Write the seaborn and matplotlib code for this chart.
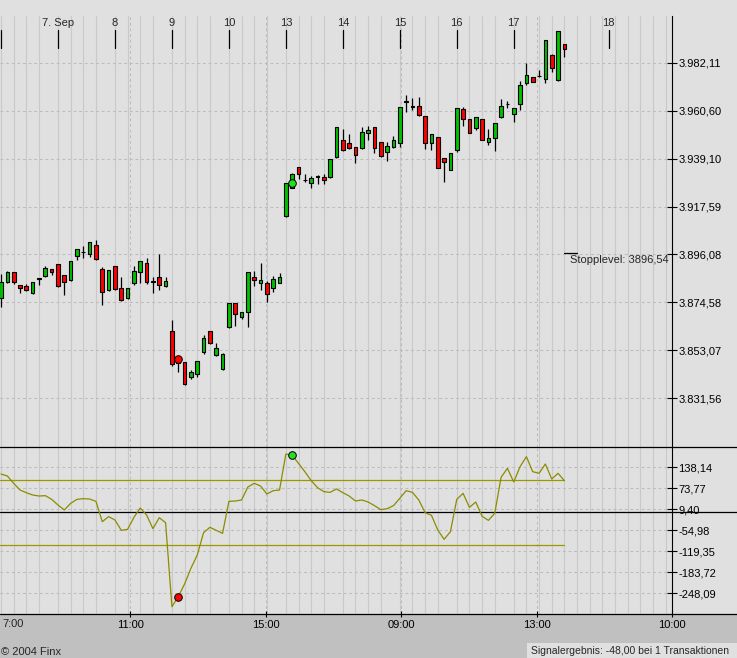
import numpy as np
import pandas as pd
import seaborn as sns
from matplotlib import pyplot as plt
from matplotlib.lines import Line2D
from matplotlib.patches import Rectangle

# hourly candles, 9 per trading day (6. - 17. Sep 2004)
opens = [3876.35, 3883.84, 3888.03, 3882.19, 3881.74, 3878.89, 3885.19, 3886.53, 3889.38, 3891.63,
         3886.68, 3884.74, 3895.22, 3897.02, 3896.12, 3900.17, 3889.38, 3880.24, 3890.73, 3880.84,
         3876.65, 3883.09, 3888.03, 3892.08, 3883.84, 3885.93, 3882.04, 3861.52, 3847.44, 3847.59,
         3841.14, 3842.49, 3852.23, 3861.52, 3851.03, 3844.74, 3863.61, 3874.10, 3868.11, 3870.06,
         3885.78, 3883.39, 3883.09, 3880.84, 3883.39, 3913.50, 3926.08, 3935.22, 3929.38, 3928.33,
         3931.03, 3931.03, 3931.03, 3940.01, 3947.35, 3946.01, 3944.21, 3943.76, 3950.50, 3953.35,
         3946.61, 3942.26, 3944.51, 3946.01, 3964.73, 3962.50, 3962.63, 3958.29, 3946.01, 3948.85,
         3939.26, 3934.17, 3943.16, 3961.44, 3956.94, 3952.75, 3956.94, 3946.75, 3948.25, 3957.99,
         3963.53, 3959.34, 3963.83, 3973.27, 3975.67, 3976.12, 3974.77, 3985.55, 3974.47, 3990.65]
highs = [3887.28, 3888.63, 3888.33, 3882.19, 3882.64, 3883.54, 3885.19, 3890.73, 3889.38, 3891.63,
         3886.68, 3893.27, 3898.67, 3899.87, 3901.66, 3902.56, 3890.43, 3888.93, 3890.73, 3885.93,
         3880.84, 3890.73, 3892.97, 3894.32, 3885.93, 3896.27, 3885.93, 3866.61, 3848.93, 3847.59,
         3843.99, 3848.03, 3859.87, 3861.52, 3856.27, 3851.78, 3874.10, 3874.10, 3870.06, 3888.03,
         3888.63, 3892.23, 3883.99, 3886.38, 3887.73, 3928.18, 3932.50, 3935.22, 3932.22, 3931.48,
         3931.77, 3932.07, 3938.82, 3953.35, 3952.60, 3950.20, 3944.21, 3953.35, 3953.80, 3953.35,
         3946.61, 3946.75, 3949.30, 3962.18, 3967.73, 3966.23, 3966.83, 3958.29, 3950.05, 3948.85,
         3939.56, 3941.51, 3961.73, 3962.33, 3956.94, 3957.69, 3956.94, 3952.45, 3954.99, 3965.93,
         3965.03, 3961.88, 3973.87, 3982.11, 3975.67, 3978.96, 3992.29, 3986.00, 3996.34, 3990.65]
lows = [3872.60, 3883.39, 3882.64, 3878.89, 3879.79, 3878.44, 3882.49, 3886.08, 3886.98, 3881.59,
        3877.99, 3884.29, 3893.72, 3894.62, 3895.07, 3893.57, 3873.50, 3879.64, 3880.24, 3875.30,
        3876.20, 3882.34, 3883.39, 3882.94, 3878.89, 3880.24, 3881.59, 3846.09, 3843.39, 3837.55,
        3840.25, 3841.14, 3851.48, 3855.97, 3850.58, 3844.29, 3863.16, 3864.06, 3867.21, 3863.61,
        3882.04, 3880.09, 3874.85, 3879.34, 3883.09, 3912.75, 3925.80, 3930.13, 3928.78, 3926.08,
        3927.88, 3927.73, 3930.58, 3939.56, 3942.71, 3943.31, 3937.32, 3943.31, 3947.65, 3941.81,
        3939.71, 3938.22, 3944.06, 3944.51, 3960.24, 3960.99, 3958.44, 3943.61, 3943.16, 3934.77,
        3928.78, 3933.87, 3942.26, 3953.95, 3950.65, 3952.15, 3947.50, 3945.41, 3942.71, 3957.54,
        3962.03, 3955.74, 3961.14, 3972.37, 3973.42, 3975.67, 3973.27, 3978.21, 3974.02, 3984.95]
closes = [3883.54, 3888.03, 3883.84, 3880.84, 3880.24, 3883.54, 3885.19, 3889.83, 3888.03, 3882.04,
          3883.84, 3892.97, 3898.37, 3897.02, 3901.51, 3894.17, 3879.34, 3888.93, 3880.69, 3875.75,
          3880.84, 3888.48, 3892.97, 3883.84, 3883.84, 3882.49, 3883.99, 3846.69, 3848.93, 3838.00,
          3843.09, 3848.03, 3858.37, 3856.42, 3853.88, 3851.18, 3874.10, 3869.46, 3870.06, 3888.03,
          3884.44, 3884.44, 3878.44, 3884.89, 3885.78, 3928.18, 3932.22, 3932.07, 3929.38, 3930.28,
          3931.03, 3929.68, 3938.82, 3953.35, 3943.16, 3943.76, 3940.61, 3950.95, 3951.85, 3944.06,
          3940.16, 3944.66, 3947.35, 3962.18, 3964.73, 3962.50, 3958.89, 3946.31, 3950.05, 3935.07,
          3937.77, 3941.51, 3961.73, 3956.79, 3950.80, 3957.69, 3947.65, 3948.40, 3954.99, 3962.78,
          3963.53, 3961.88, 3972.22, 3976.57, 3973.72, 3976.12, 3992.29, 3980.01, 3996.34, 3988.25]

# CCI indicator
cci = [117.5, 111.4, 88.9, 68.4, 60.2, 53.0, 49.9, 51.0, 39.7, 22.3,
       6.9, 27.4, 39.7, 41.8, 40.7, 33.5, -28.9, -13.5, -23.8, -55.5,
       -52.5, -15.6, 13.1, -8.4, -50.4, -16.6, -32.0, -290.1, -259.4, -220.4,
       -172.3, -131.3, -62.7, -46.3, -55.5, -64.8, 33.5, 34.6, 37.7, 77.6,
       88.9, 80.7, 56.1, 66.3, 68.4, 179.0, 174.9, 150.3, 124.7, 97.1,
       75.6, 63.3, 61.2, 71.5, 60.2, 49.9, 34.6, 37.7, 31.5, 20.3,
       8.0, 11.0, 20.3, 42.8, 66.3, 61.2, 37.7, -1.3, -9.4, -54.5,
       -83.2, -59.6, 39.7, 58.1, 15.1, 31.5, -12.5, -24.8, -3.3, 107.3,
       135.0, 93.0, 140.1, 170.8, 124.7, 119.6, 148.3, 102.2, 119.6, 97.1]
cci_levels = [100, -100]

sell_idx = 28
buy_idx = 46
stop_level = 3896.54

day_idx = [0, 9, 18, 27, 36, 45, 54, 63, 72, 81, 96]
day_labels = ["", "7. Sep", "8", "9", "10", "13", "14", "15", "16", "17", "18"]

price_ticks = [3982.11, 3960.60, 3939.10, 3917.59, 3896.08, 3874.58, 3853.07, 3831.56]
price_labels = ["3.982,11", "3.960,60", "3.939,10", "3.917,59", "3.896,08", "3.874,58",
                "3.853,07", "3.831,56"]
cci_ticks = [138.14, 73.77, 9.40, -54.98, -119.35, -183.72, -248.09]
cci_labels = ["138,14", "73,77", "9,40", "-54,98", "-119,35", "-183,72", "-248,09"]

time_pos = [20.43, 41.82, 63.21, 84.6, 106.0]
time_labels = ["11:00", "15:00", "09:00", "13:00", "10:00"]

df = pd.DataFrame({"i": np.arange(len(opens)), "open": opens, "high": highs,
                   "low": lows, "close": closes, "cci": cci})

sns.set_style("white")
plt.rcParams['font.family'] = ['Liberation Sans', 'DejaVu Sans']
plt.rcParams['font.size'] = 8

BG = "#e0e0e0"
FOOT = "#c0c0c0"
GRID = "#c9c9c9"
DASH = "#bcbcbc"
GREEN = "#00c000"
RED = "#ff0000"
OLIVE = "#8c8c00"

fig = plt.figure(figsize=(7.37, 6.58), dpi=100, facecolor=BG)
W, H = 737, 658
ax = fig.add_axes([0, 1 - 447 / H, 672.3 / W, (447 - 16) / H])
ax2 = fig.add_axes([0, 1 - 614 / H, 672.3 / W, (614 - 447) / H], sharex=ax)
fig.add_artist(Rectangle((0, 0), 1, 44 / H, transform=fig.transFigure,
                         facecolor=FOOT, edgecolor="none", zorder=-1))

xmin, xmax = -0.16, 106.05
grid_x = [d + o for d in range(0, 81, 9) for o in (0, 2, 4, 6)] + list(range(81, 106, 2))

for a in (ax, ax2):
    a.set_facecolor(BG)
    for x in grid_x:
        a.axvline(x, color=GRID, lw=0.8, zorder=0)
    for x in time_pos:
        a.axvline(x, color=DASH, lw=0.75, ls=(0, (2.7, 2.7)), zorder=0.5)
    for s in ("left", "top"):
        a.spines[s].set_visible(False)
    a.spines["right"].set_color("black")
    a.spines["right"].set_linewidth(0.8)
    a.spines["bottom"].set_visible(False)
    a.yaxis.tick_right()
    a.tick_params(axis="y", direction="inout", length=7, width=0.8, colors="black",
                  labelsize=8, pad=1)

# candles
up = df[df["close"] >= df["open"]]
dn = df[df["close"] < df["open"]]
ax.vlines(df["i"], df["low"], df["high"], color="black", lw=0.9, zorder=2)
for part, col in ((up, GREEN), (dn, RED)):
    body = (part["close"] - part["open"]).abs().clip(lower=0.35)
    bottom = part[["open", "close"]].min(axis=1)
    ax.bar(part["i"], body, bottom=bottom, width=0.58, color=col,
           edgecolor="black", linewidth=0.8, zorder=3)

sns.scatterplot(x=[sell_idx], y=[df["close"][sell_idx]], ax=ax, color=RED,
                edgecolor="black", s=30, linewidth=0.7, zorder=5)
sns.scatterplot(x=[buy_idx], y=[(df["open"][buy_idx] + df["close"][buy_idx]) / 2 - 0.8], ax=ax,
                color="#22e022", edgecolor="black", s=30, linewidth=0.7, zorder=5)

for y in price_ticks:
    ax.axhline(y, color=DASH, lw=0.75, ls=(0, (2.7, 2.7)), zorder=0.5)
ax.set_yticks(price_ticks, price_labels)
ax.set_ylim(3809.54, 4003.23)
ax.set_xlim(xmin, xmax)
ax.tick_params(axis="x", bottom=False, labelbottom=False)

# date marks along the top
tr = ax.get_xaxis_transform()
for x, lab in zip(day_idx, day_labels):
    ax.plot([x, x], [0.9258, 0.9675], color="black", lw=0.9, transform=tr, zorder=4)
    ax.text(x, 0.9838, lab, transform=tr, ha="center", va="center", fontsize=8)

# stop level
ax.plot([89, 91], [stop_level, stop_level], color="black", lw=0.9, zorder=4)
ax.text(89.9, stop_level - 2.9, "Stopplevel: 3896,54", ha="left", va="center", fontsize=8)

# CCI panel
for y in cci_ticks:
    ax2.axhline(y, color=DASH, lw=0.75, ls=(0, (2.7, 2.7)), zorder=0.5)
for lv in cci_levels:
    ax2.plot([xmin, df["i"].iloc[-1]], [lv, lv], color="#9a9a00", lw=0.9, zorder=1.5)
ax2.axhline(0, xmin=0, xmax=W / 672.3, color="black", lw=0.9, clip_on=False, zorder=1.6)
sns.lineplot(data=df, x="i", y="cci", ax=ax2, color=OLIVE, lw=0.9, zorder=2)
sns.scatterplot(x=[sell_idx], y=[cci[sell_idx]], ax=ax2, color=RED, edgecolor="black",
                s=30, linewidth=0.7, zorder=5)
sns.scatterplot(x=[buy_idx], y=[cci[buy_idx]], ax=ax2, color="#22e022", edgecolor="black",
                s=30, linewidth=0.7, zorder=5)
ax2.set_yticks(cci_ticks, cci_labels)
ax2.set_ylim(-312.6, 200.5)
ax2.set_xlim(xmin, xmax)
ax2.set_xlabel("")
ax2.set_ylabel("")
ax.set_ylabel("")
ax2.set_xticks(time_pos, time_labels)
ax2.tick_params(axis="x", bottom=True, direction="inout", length=5, width=0.8,
                colors="black", labelsize=8, pad=2)
ax2.text(0.15, -0.06, "7:00", transform=ax2.get_xaxis_transform(), ha="left",
         va="center", fontsize=8)

# full-width separator lines
for yy in (1 - 447 / H, 44 / H):
    fig.add_artist(Line2D([0, 1], [yy, yy], transform=fig.transFigure, color="black", lw=0.9))

# footer
fig.text(1 / W, 6 / H, "\u00a9 2004 Finx", ha="left", va="center", fontsize=8)
fig.add_artist(Rectangle((527 / W, 0), 1 - 527 / W, 15 / H, transform=fig.transFigure,
                         facecolor=BG, edgecolor="none"))
fig.text(531 / W, 6.5 / H, "Signalergebnis: -48,00 bei 1 Transaktionen", ha="left",
         va="center", fontsize=7.5)

fig.savefig("out.png", dpi=100, facecolor=BG)
